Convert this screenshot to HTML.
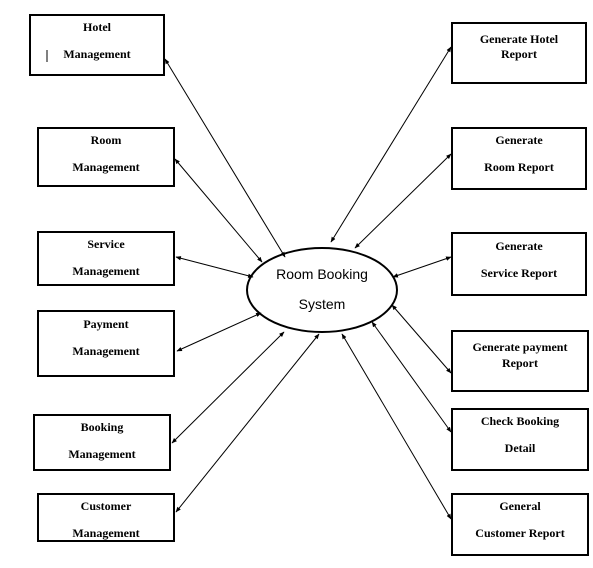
<!DOCTYPE html>
<html><head><meta charset="utf-8"><style>
html,body{margin:0;padding:0;background:#fff;}
svg{display:block;}
.b{font-family:"Liberation Serif",serif;font-weight:bold;font-size:12px;fill:#000;text-anchor:middle;}
.s{font-family:"Liberation Sans",sans-serif;font-size:14px;fill:#000;text-anchor:middle;}
rect{fill:#fff;stroke:#000;stroke-width:2;}
line{stroke:#000;stroke-width:1;marker-start:url(#a);marker-end:url(#a);}
</style></head><body>
<svg width="593" height="568" viewBox="0 0 593 568" xmlns="http://www.w3.org/2000/svg">
<defs><marker id="a" viewBox="0 0 10 10" refX="9" refY="5" markerWidth="5.5" markerHeight="5.5" orient="auto-start-reverse"><path d="M0,1 L10,5 L0,9 z" fill="#000"/></marker></defs>
<rect x="30" y="15" width="134" height="60"/>
<text class="b" x="97" y="31">Hotel</text><text class="b" x="97" y="58">Management</text>
<line x1="47" y1="50" x2="47" y2="62" style="marker-start:none;marker-end:none"/>
<rect x="38" y="128" width="136" height="58"/>
<text class="b" x="106" y="144">Room</text><text class="b" x="106" y="171">Management</text>
<rect x="38" y="232" width="136" height="53"/>
<text class="b" x="106" y="248">Service</text><text class="b" x="106" y="275">Management</text>
<rect x="38" y="311" width="136" height="65"/>
<text class="b" x="106" y="328">Payment</text><text class="b" x="106" y="355">Management</text>
<rect x="34" y="415" width="136" height="55"/>
<text class="b" x="102" y="431">Booking</text><text class="b" x="102" y="458">Management</text>
<rect x="38" y="494" width="136" height="47"/>
<text class="b" x="106" y="510">Customer</text><text class="b" x="106" y="537">Management</text>

<rect x="452" y="23" width="134" height="60"/>
<text class="b" x="519" y="43">Generate Hotel</text><text class="b" x="519" y="58">Report</text>
<rect x="452" y="128" width="134" height="61"/>
<text class="b" x="519" y="144">Generate</text><text class="b" x="519" y="171">Room Report</text>
<rect x="452" y="233" width="134" height="62"/>
<text class="b" x="519" y="250">Generate</text><text class="b" x="519" y="277">Service Report</text>
<rect x="452" y="331" width="136" height="60"/>
<text class="b" x="520" y="351">Generate payment</text><text class="b" x="520" y="367">Report</text>
<rect x="452" y="409" width="136" height="61"/>
<text class="b" x="520" y="425">Check Booking</text><text class="b" x="520" y="452">Detail</text>
<rect x="452" y="494" width="136" height="61"/>
<text class="b" x="520" y="510">General</text><text class="b" x="520" y="537">Customer Report</text>

<ellipse cx="322" cy="290" rx="75" ry="42" fill="#fff" stroke="#000" stroke-width="2"/>
<text class="s" x="322" y="279">Room Booking</text>
<text class="s" x="322" y="309">System</text>

<line x1="165" y1="59" x2="285" y2="257"/>
<line x1="175" y1="159" x2="262" y2="262"/>
<line x1="176" y1="257" x2="253" y2="277"/>
<line x1="177" y1="351" x2="261" y2="313"/>
<line x1="172" y1="443" x2="284" y2="332"/>
<line x1="176" y1="512" x2="319" y2="334"/>
<line x1="451" y1="47" x2="331" y2="242"/>
<line x1="451" y1="154" x2="355" y2="248"/>
<line x1="451" y1="257" x2="393" y2="277"/>
<line x1="451" y1="373" x2="392" y2="305"/>
<line x1="451" y1="432" x2="372" y2="322"/>
<line x1="451" y1="519" x2="342" y2="334"/>
</svg>
</body></html>
